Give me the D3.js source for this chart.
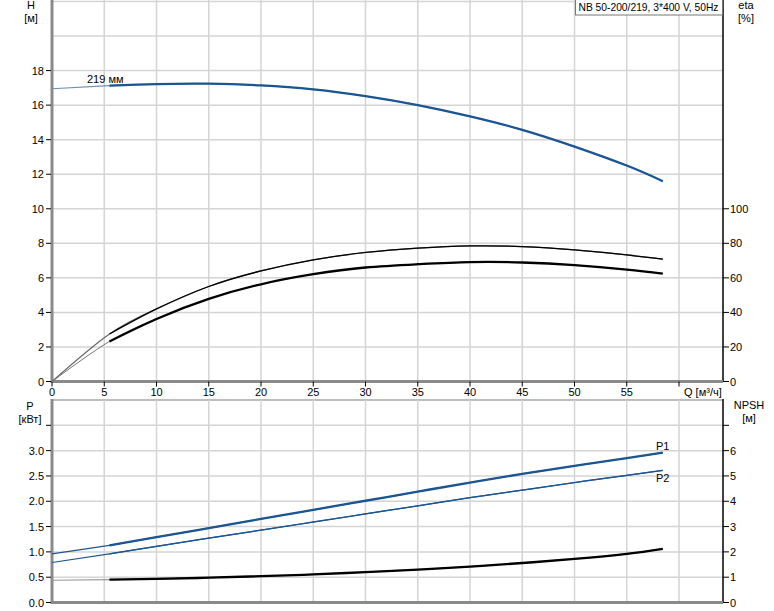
<!DOCTYPE html>
<html><head><meta charset="utf-8">
<script src="https://cdn.jsdelivr.net/npm/d3@7"></script>
<style>body{margin:0;background:#fff}svg{display:block}text{font-family:"Liberation Sans",Arial,sans-serif;font-size:11px;fill:#000}</style>
</head><body>
<script>
const Q       = [0, 5.5, 10, 15, 20, 25, 30, 35, 40, 45, 50, 55, 58.45];
const H       = [16.95, 17.13, 17.22, 17.24, 17.14, 16.91, 16.52, 16.0, 15.35, 14.57, 13.6, 12.5, 11.6];
const etaPump = [0, 27.5, 42, 55, 64, 70.4, 74.7, 77.2, 78.5, 78.1, 76.2, 73.3, 70.8];
const etaTot  = [0, 23.2, 36.2, 47.8, 56.3, 62.1, 66, 67.9, 69.1, 68.9, 67.4, 64.8, 62.5];
const P1      = [0.96, 1.13, 1.29, 1.47, 1.65, 1.83, 2.01, 2.19, 2.37, 2.54, 2.70, 2.85, 2.96];
const P2      = [0.79, 0.96, 1.11, 1.27, 1.43, 1.59, 1.75, 1.91, 2.07, 2.22, 2.37, 2.51, 2.61];
const NPSH    = [0.88, 0.90, 0.93, 0.98, 1.04, 1.11, 1.2, 1.3, 1.42, 1.56, 1.72, 1.92, 2.12];
const qTicks  = [0, 5, 10, 15, 20, 25, 30, 35, 40, 45, 50, 55];
const hTicks  = [0, 2, 4, 6, 8, 10, 12, 14, 16, 18];
const etaTicks= [0, 20, 40, 60, 80, 100];
const pTicks  = [0, 0.5, 1, 1.5, 2, 2.5, 3, 3.5];
const npshTicks=[0, 1, 2, 3, 4, 5, 6, 7];
const title = "NB 50-200/219, 3*400 V, 50Hz";

const W = 774, Ht = 611;
const svg = d3.select("body").append("svg").attr("width", W).attr("height", Ht);
const L = 52, R = 723;
const x = d3.scaleLinear().domain([0, 64.2]).range([L, L + 64.2 * 10.45]);
const yH = d3.scaleLinear().domain([0, 22]).range([381.5, 1.5]);
const yEta = d3.scaleLinear().domain([0, 220]).range([381.5, 1.5]);
const yP = d3.scaleLinear().domain([0, 4]).range([602.5, 400]);
const yN = d3.scaleLinear().domain([0, 8]).range([602.5, 400]);
const blue = "#1c5592", grid = "#d4d4d4", axisGray = "#8a8a8a";

// grids
const gridTop = svg.append("g");
d3.range(2, 23, 2).forEach(v => gridTop.append("line").attr("x1", L).attr("x2", R).attr("y1", yH(v)).attr("y2", yH(v)).attr("stroke", grid).attr("stroke-width", 1.5));
d3.range(5, 65, 5).forEach(v => gridTop.append("line").attr("x1", x(v)).attr("x2", x(v)).attr("y1", 0).attr("y2", yH(0)).attr("stroke", grid).attr("stroke-width", 1.5));
d3.range(0.5, 4.01, 0.5).forEach(v => gridTop.append("line").attr("x1", L).attr("x2", R).attr("y1", yP(v)).attr("y2", yP(v)).attr("stroke", v === 4 ? "#bdbdbd" : grid).attr("stroke-width", v === 4 ? 2 : 1.5));
d3.range(5, 65, 5).forEach(v => gridTop.append("line").attr("x1", x(v)).attr("x2", x(v)).attr("y1", yP(4)).attr("y2", yP(0)).attr("stroke", grid).attr("stroke-width", 1.5));

// axes
function leftAxis(scale, ticks, labelTicks, fmt, y0, y1) {
  const g = svg.append("g");
  g.append("line").attr("x1", L).attr("x2", L).attr("y1", y0).attr("y2", y1).attr("stroke", axisGray).attr("stroke-width", 3);
  ticks.forEach(t => {
    g.append("line").attr("x1", L - 6).attr("x2", L - 1).attr("y1", scale(t)).attr("y2", scale(t)).attr("stroke", "#000").attr("stroke-width", 1);
    if (labelTicks.includes(t)) g.append("text").attr("x", 44).attr("y", scale(t) + 4).attr("text-anchor", "end").text(fmt(t));
  });
}
function rightAxis(scale, ticks, labelTicks, fmt, y0, y1) {
  const g = svg.append("g");
  g.append("line").attr("x1", R).attr("x2", R).attr("y1", y0).attr("y2", y1).attr("stroke", "#000").attr("stroke-width", 1.5);
  ticks.forEach(t => {
    g.append("line").attr("x1", R).attr("x2", R + 6).attr("y1", scale(t)).attr("y2", scale(t)).attr("stroke", "#000").attr("stroke-width", 1);
    if (labelTicks.includes(t)) g.append("text").attr("x", 730).attr("y", scale(t) + 4).text(fmt(t));
  });
}
leftAxis(yH, hTicks, hTicks, d => d, 0, yH(0) + 1.5);
rightAxis(yEta, etaTicks, etaTicks, d => d, 0, yH(0));
leftAxis(yP, pTicks, pTicks.filter(v => v <= 3), d3.format(".1f"), yP(4) - 1, yP(0) + 1.5);
rightAxis(yN, npshTicks, npshTicks.filter(v => v <= 6), d => d, yP(4) - 1, yP(0));

// x axes lines
svg.append("line").attr("x1", L).attr("x2", R).attr("y1", yH(0)).attr("y2", yH(0)).attr("stroke", axisGray).attr("stroke-width", 3);
svg.append("line").attr("x1", L).attr("x2", R).attr("y1", yP(0)).attr("y2", yP(0)).attr("stroke", axisGray).attr("stroke-width", 3);
qTicks.concat([60]).forEach(t => svg.append("line").attr("x1", x(t)).attr("x2", x(t)).attr("y1", yH(0)).attr("y2", yH(0) + 5).attr("stroke", "#000").attr("stroke-width", 1));
qTicks.forEach(t => svg.append("text").attr("x", x(t)).attr("y", 396).attr("text-anchor", "middle").text(t));
svg.append("text").attr("x", 684).attr("y", 396).text("Q [м³/ч]");

// axis titles
svg.append("text").attr("x", 31).attr("y", 9).attr("text-anchor", "middle").text("H");
svg.append("text").attr("x", 31).attr("y", 22).attr("text-anchor", "middle").text("[м]");
svg.append("text").attr("x", 746).attr("y", 9).attr("text-anchor", "middle").text("eta");
svg.append("text").attr("x", 746).attr("y", 22).attr("text-anchor", "middle").text("[%]");
svg.append("text").attr("x", 30).attr("y", 410).attr("text-anchor", "middle").text("P");
svg.append("text").attr("x", 30).attr("y", 423).attr("text-anchor", "middle").text("[кВт]");
svg.append("text").attr("x", 749).attr("y", 409).attr("text-anchor", "middle").text("NPSH");
svg.append("text").attr("x", 749).attr("y", 422).attr("text-anchor", "middle").text("[м]");

// title box
svg.append("rect").attr("x", 575.5).attr("y", -1).attr("width", 147).attr("height", 16).attr("fill", "#fff").attr("stroke", "#777").attr("stroke-width", 1);
svg.append("text").attr("x", 578.5).attr("y", 11).attr("textLength", 140).attr("lengthAdjust", "spacingAndGlyphs").text(title);

// curves
const lineGen = yScale => d3.line().x(d => x(d[0])).y(d => yScale(d[1])).curve(d3.curveNatural);
function curve(vals, yScale, color, thinW, thickW, thinColor) {
  const pts = Q.map((q, i) => [q, vals[i]]);
  const line = lineGen(yScale);
  svg.append("path").attr("d", line(pts)).attr("fill", "none").attr("stroke", thinColor).attr("stroke-width", thinW);
  svg.append("path").attr("d", line(pts.slice(1))).attr("fill", "none").attr("stroke", color).attr("stroke-width", thickW);
}
curve(H, yH, blue, 1.2, 2.2, "#6f8fb5");
curve(etaPump, yEta, "#000", 1.2, 1.3, "#666");
curve(etaTot, yEta, "#000", 1, 2.3, "#777");
curve(P1, yP, blue, 1.2, 2.3, blue);
curve(P2, yP, blue, 1.2, 1.3, blue);
curve(NPSH, yN, "#000", 1.2, 2.3, "#999");

// labels
svg.append("text").attr("x", 87).attr("y", 83).text("219 мм");
svg.append("text").attr("x", 656).attr("y", 450).text("P1");
svg.append("text").attr("x", 656).attr("y", 482).text("P2");
</script>
</body></html>
